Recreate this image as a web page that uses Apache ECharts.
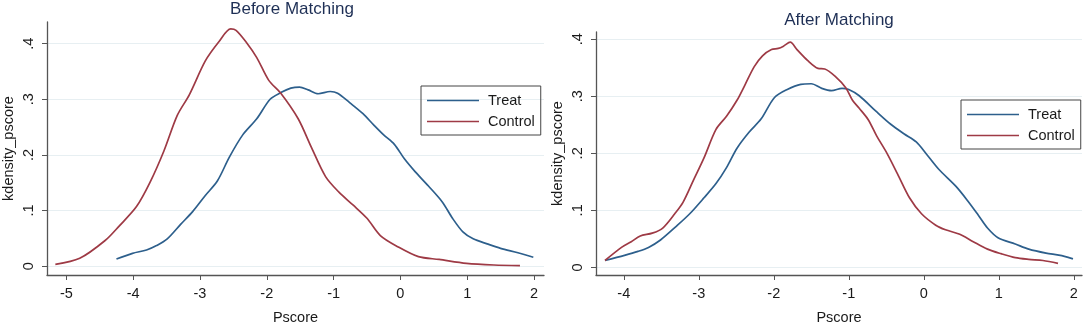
<!DOCTYPE html>
<html><head><meta charset="utf-8">
<script src="https://cdn.jsdelivr.net/npm/echarts@6/dist/echarts.min.js"></script>
<style>html,body{margin:0;padding:0;background:#fff}#c{width:1084px;height:330px}</style>
</head><body><div id="c"></div>
<script>
// ---- data ----
const titles = ['Before Matching', 'After Matching'];
const seriesNames = ['Treat', 'Control'];
const xTicksLeft = [-5, -4, -3, -2, -1, 0, 1, 2];
const xTicksRight = [-4, -3, -2, -1, 0, 1, 2];
const yTicks = [0, 0.1, 0.2, 0.3, 0.4];
const yTickLabels = ['0', '.1', '.2', '.3', '.4'];

const beforeTreat = [
[-4.25,0.0127],[-4.01,0.023],[-3.80,0.029],[-3.65,0.037],[-3.49,0.049],[-3.29,0.075],[-3.11,0.098],
[-2.92,0.127],[-2.74,0.153],[-2.56,0.196],[-2.36,0.236],[-2.15,0.265],[-1.95,0.300],[-1.79,0.312],
[-1.64,0.320],[-1.51,0.322],[-1.38,0.317],[-1.23,0.310],[-1.05,0.314],[-0.94,0.311],[-0.76,0.294],
[-0.56,0.274],[-0.40,0.254],[-0.25,0.236],[-0.09,0.219],[0.06,0.193],[0.22,0.170],[0.42,0.144],
[0.63,0.115],[0.78,0.086],[0.94,0.061],[1.09,0.049],[1.30,0.040],[1.50,0.032],[1.76,0.024],[1.99,0.016]];
const beforeControl = [
[-5.165,0.003],[-4.80,0.014],[-4.42,0.046],[-4.21,0.072],[-3.95,0.107],[-3.75,0.150],[-3.54,0.207],
[-3.34,0.271],[-3.16,0.308],[-2.92,0.369],[-2.72,0.403],[-2.54,0.4265],[-2.46,0.424],[-2.31,0.403],
[-2.15,0.375],[-1.97,0.334],[-1.79,0.311],[-1.53,0.265],[-1.33,0.213],[-1.12,0.161],[-0.92,0.133],
[-0.71,0.110],[-0.50,0.086],[-0.30,0.055],[-0.04,0.035],[0.27,0.017],[0.58,0.012],[0.99,0.005],
[1.40,0.002],[1.79,0.001]];
const afterTreat = [
[-4.25,0.012],[-3.99,0.021],[-3.81,0.028],[-3.67,0.035],[-3.51,0.048],[-3.30,0.072],[-3.12,0.094],
[-2.93,0.122],[-2.77,0.147],[-2.63,0.175],[-2.49,0.209],[-2.33,0.237],[-2.17,0.260],[-1.99,0.298],
[-1.82,0.312],[-1.64,0.321],[-1.50,0.322],[-1.36,0.314],[-1.23,0.310],[-1.09,0.314],[-1.00,0.312],
[-0.86,0.301],[-0.63,0.273],[-0.44,0.251],[-0.26,0.234],[-0.10,0.220],[0.04,0.198],[0.20,0.172],
[0.43,0.142],[0.59,0.116],[0.73,0.091],[0.85,0.069],[0.99,0.052],[1.22,0.041],[1.40,0.032],
[1.63,0.025],[1.82,0.021],[1.99,0.015]];
const afterControl = [
[-4.25,0.012],[-4.03,0.035],[-3.90,0.045],[-3.78,0.055],[-3.62,0.060],[-3.48,0.069],[-3.32,0.094],
[-3.21,0.114],[-3.07,0.153],[-2.93,0.192],[-2.77,0.242],[-2.63,0.265],[-2.49,0.293],[-2.38,0.321],
[-2.26,0.352],[-2.15,0.371],[-2.03,0.382],[-1.94,0.384],[-1.87,0.388],[-1.78,0.395],[-1.69,0.382],
[-1.55,0.363],[-1.41,0.349],[-1.32,0.348],[-1.18,0.335],[-1.04,0.315],[-0.95,0.293],[-0.86,0.279],
[-0.74,0.259],[-0.63,0.231],[-0.49,0.200],[-0.35,0.164],[-0.19,0.122],[-0.03,0.094],[0.16,0.074],
[0.29,0.066],[0.48,0.058],[0.66,0.045],[0.85,0.032],[1.03,0.024],[1.22,0.017],[1.40,0.014],
[1.59,0.012],[1.79,0.007]];

// ---- styling ----
const FONT = '"Liberation Sans", Arial, sans-serif';
const BLUE = '#2d5f8c', RED = '#9e3a45';
const AXIS = '#555';
const TXT = '#1a1a1a';

function xAxis(idx, min, max, ticks) {
  return {
    type: 'value', gridIndex: idx, min: min, max: max,
    name: 'Pscore', nameLocation: 'middle', nameGap: 35,
    nameTextStyle: {fontFamily: FONT, fontSize: 14.5, color: TXT},
    axisLine: {show: true, onZero: false, lineStyle: {color: AXIS, width: 1.3}},
    axisTick: {show: true, length: 5, customValues: ticks, lineStyle: {color: AXIS}},
    axisLabel: {customValues: ticks, margin: 11, fontFamily: FONT, fontSize: 14.5, color: TXT,
      formatter: v => String(v)},
    splitLine: {show: false}
  };
}
function yAxis(idx, min, max) {
  return {
    type: 'value', gridIndex: idx, min: min, max: max,
    name: 'kdensity_pscore', nameLocation: 'middle', nameGap: 31,
    nameTextStyle: {fontFamily: FONT, fontSize: 14.5, color: TXT},
    axisLine: {show: true, onZero: false, lineStyle: {color: AXIS, width: 1.3}},
    axisTick: {show: true, length: 5, customValues: yTicks, lineStyle: {color: AXIS}},
    axisLabel: {customValues: yTicks, rotate: 90, margin: 11, fontFamily: FONT, fontSize: 14.5, color: TXT,
      formatter: v => yTickLabels[yTicks.findIndex(t => Math.abs(t - v) < 1e-9)] ?? ''},
    splitLine: {show: false}
  };
}
function gridSeries(idx) {
  return {
    type: 'line', xAxisIndex: idx, yAxisIndex: idx, data: [], silent: true, z: 0,
    markLine: {silent: true, symbol: 'none', label: {show: false}, animation: false, z: 0,
      lineStyle: {color: '#e7eff2', width: 1.2, type: 'solid'},
      data: yTicks.map(v => ({yAxis: v}))}
  };
}
function curve(idx, name, data, color) {
  return {
    type: 'line', name: name, xAxisIndex: idx, yAxisIndex: idx, data: data,
    smooth: 0.3, symbol: 'none', showSymbol: false, z: 10,
    lineStyle: {color: color, width: 1.7}, itemStyle: {color: color}
  };
}
function legend(left, top) {
  return {
    left: left, top: top, orient: 'vertical', data: seriesNames,
    icon: 'rect', itemWidth: 52, itemHeight: 1.4, itemGap: 6,
    padding: [7, 6, 6, 6],
    borderColor: '#444', borderWidth: 1, borderRadius: 0,
    textStyle: {fontFamily: FONT, fontSize: 14.5, color: TXT, padding: [0, 0, 0, 4], lineHeight: 15}
  };
}

const option = {
  animation: false,
  backgroundColor: '#fff',
  title: [
    {text: titles[0], left: 292, top: 1, padding: 0, textAlign: 'center',
      textStyle: {fontFamily: FONT, fontSize: 17, fontWeight: 'normal', color: '#1e2f55'}},
    {text: titles[1], left: 839, top: 12, padding: 0, textAlign: 'center',
      textStyle: {fontFamily: FONT, fontSize: 17, fontWeight: 'normal', color: '#1e2f55'}}
  ],
  grid: [
    {left: 42, top: 22, width: 502, height: 264, containLabel: false},
    {left: 596, top: 32, width: 486, height: 254, containLabel: false}
  ],
  xAxis: [xAxis(0, -5.29, 2.15, xTicksLeft), xAxis(1, -4.37, 2.11, xTicksRight)],
  yAxis: [yAxis(0, -0.016, 0.439), yAxis(1, -0.0134, 0.4128)],
  legend: [legend(421, 86), legend(961, 100)],
  series: [
    gridSeries(0), gridSeries(1),
    curve(0, seriesNames[0], beforeTreat, BLUE),
    curve(0, seriesNames[1], beforeControl, RED),
    curve(1, seriesNames[0], afterTreat, BLUE),
    curve(1, seriesNames[1], afterControl, RED)
  ]
};
const chart = echarts.init(document.getElementById('c'), null, {renderer: 'canvas'});
chart.setOption(option);
</script>
</body></html>
